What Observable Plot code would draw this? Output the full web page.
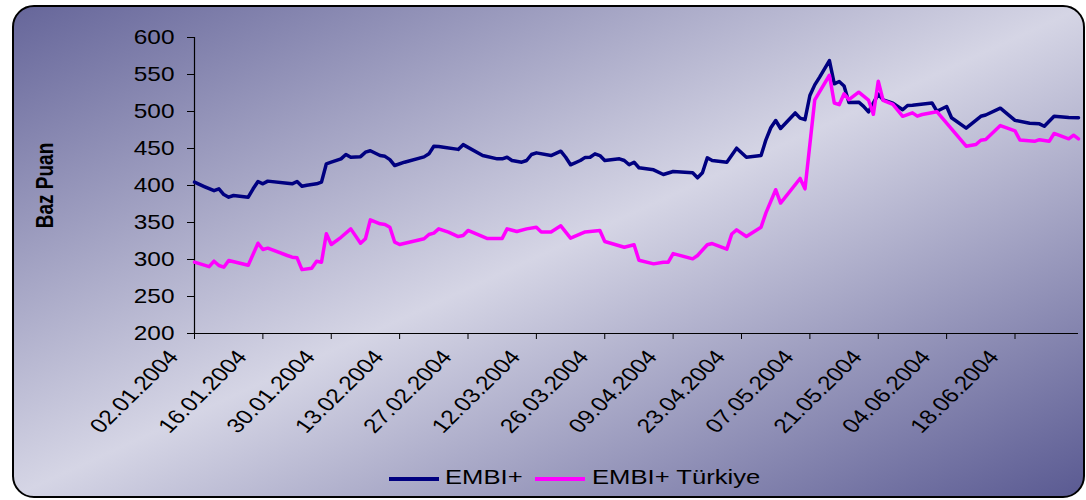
<!DOCTYPE html>
<html><head><meta charset="utf-8">
<script src="https://cdn.jsdelivr.net/npm/d3@7"></script>
<script src="https://cdn.jsdelivr.net/npm/@observablehq/plot@0.6"></script>
<style>
body{margin:0;background:#fff;}
#wrap{position:relative;width:1086px;height:500px;overflow:hidden;font-family:"Liberation Sans",Arial,sans-serif;}
#frame{position:absolute;left:12px;top:5px;width:1069px;height:489px;border:2px solid #000;border-radius:22px;background:linear-gradient(to bottom right,#66669a 0%,#d5d5e5 50%,#5a5a92 100%);}
#chart{position:absolute;left:0;top:0;}
.leg-line{position:absolute;height:4px;width:50px;top:477px;}
.leg-text{position:absolute;top:466px;font-size:21px;line-height:21px;transform:scaleX(1.22);transform-origin:0 0;white-space:nowrap;color:#000;}
</style></head>
<body>
<div id="wrap">
  <div id="frame"></div>
  <div id="chart"></div>
  <div id="legend"></div>
</div>
<script>
// ---- data ----
const seriesNames = ["EMBI+", "EMBI+ Türkiye"];
const seriesColors = ["#000080", "#ff00ff"];

const embiDates = ["2004-01-02","2004-01-04","2004-01-06","2004-01-07","2004-01-08","2004-01-09","2004-01-10","2004-01-13","2004-01-14","2004-01-15","2004-01-16","2004-01-17","2004-01-21","2004-01-22","2004-01-23","2004-01-24","2004-01-25","2004-01-27","2004-01-28","2004-01-29","2004-01-30","2004-02-01","2004-02-02","2004-02-03","2004-02-05","2004-02-06","2004-02-07","2004-02-09","2004-02-10","2004-02-11","2004-02-12","2004-02-14","2004-02-18","2004-02-19","2004-02-20","2004-02-21","2004-02-22","2004-02-25","2004-02-26","2004-03-01","2004-03-04","2004-03-05","2004-03-06","2004-03-07","2004-03-09","2004-03-10","2004-03-11","2004-03-12","2004-03-15","2004-03-17","2004-03-18","2004-03-19","2004-03-21","2004-03-22","2004-03-23","2004-03-24","2004-03-25","2004-03-26","2004-03-29","2004-03-30","2004-03-31","2004-04-01","2004-04-02","2004-04-05","2004-04-07","2004-04-09","2004-04-13","2004-04-14","2004-04-15","2004-04-16","2004-04-17","2004-04-20","2004-04-22","2004-04-24","2004-04-27","2004-04-28","2004-04-29","2004-04-30","2004-05-01","2004-05-04","2004-05-05","2004-05-06","2004-05-07","2004-05-08","2004-05-09","2004-05-11","2004-05-12","2004-05-13","2004-05-14","2004-05-15","2004-05-17","2004-05-18","2004-05-19","2004-05-21","2004-05-22","2004-05-24","2004-05-26","2004-05-27","2004-05-28","2004-06-01","2004-06-02","2004-06-04","2004-06-05","2004-06-08","2004-06-11","2004-06-12","2004-06-15","2004-06-18","2004-06-21","2004-06-23","2004-06-24","2004-06-26","2004-06-29","2004-07-01"];
const embiValues = [404.5,398.6,393,395.5,387.8,384.2,386.5,384.2,395.5,405.4,402.3,405.9,403,402.3,405.4,399,400.4,402.3,404.5,429.3,431.5,436,442,438.2,439,445,447,440.5,439.4,435,427,431.5,438.7,442.8,453,452.7,451.8,448.8,455.2,440.5,436,436,438.2,433.8,431.5,433.8,441.9,444.1,440.5,446.4,438.2,428,433.8,438,438.2,442.8,440.5,433.8,436,433.8,428,431.5,424,421.2,414.9,418.9,417.2,410.4,417.2,437.4,433.8,431.5,450.4,438.2,440.5,461.7,478,487.8,477,498,491,489,521.6,536,546.4,568.9,537.4,540.5,534.5,512,512.6,507,499.5,523.5,515.8,511.2,502.3,508.1,508.5,511.6,500.4,506.8,491.5,477.5,493.5,495.3,504.5,488,484.2,483.3,480.1,493.7,492,491.5];

const trDates = ["2004-01-02","2004-01-05","2004-01-06","2004-01-07","2004-01-08","2004-01-09","2004-01-13","2004-01-15","2004-01-16","2004-01-17","2004-01-21","2004-01-22","2004-01-23","2004-01-24","2004-01-26","2004-01-27","2004-01-28","2004-01-29","2004-01-30","2004-02-01","2004-02-03","2004-02-05","2004-02-06","2004-02-07","2004-02-09","2004-02-10","2004-02-11","2004-02-12","2004-02-13","2004-02-18","2004-02-19","2004-02-20","2004-02-21","2004-02-23","2004-02-25","2004-02-26","2004-02-27","2004-03-02","2004-03-05","2004-03-06","2004-03-08","2004-03-10","2004-03-12","2004-03-13","2004-03-15","2004-03-17","2004-03-19","2004-03-22","2004-03-24","2004-03-25","2004-03-26","2004-03-30","2004-04-01","2004-04-02","2004-04-05","2004-04-07","2004-04-08","2004-04-09","2004-04-13","2004-04-14","2004-04-16","2004-04-17","2004-04-20","2004-04-21","2004-04-22","2004-04-24","2004-04-27","2004-04-28","2004-04-30","2004-05-01","2004-05-05","2004-05-06","2004-05-08","2004-05-11","2004-05-12","2004-05-13","2004-05-14","2004-05-15","2004-05-17","2004-05-19","2004-05-20","2004-05-21","2004-05-22","2004-05-24","2004-05-26","2004-05-28","2004-05-29","2004-05-30","2004-06-02","2004-06-05","2004-06-08","2004-06-10","2004-06-11","2004-06-12","2004-06-15","2004-06-18","2004-06-19","2004-06-22","2004-06-23","2004-06-25","2004-06-26","2004-06-29","2004-06-30","2004-07-01"];
const trValues = [296.4,290.3,297.7,291.9,289.6,298.6,292.3,322,313.5,315.3,305.4,303.1,302.3,286.3,288.3,297.7,296.4,334.7,320.3,330,341.4,322,328,353.6,348.2,347.3,343.6,323.4,320.3,328,333.8,335.6,341.4,336.9,331,332.4,339.2,328.3,328.5,341.4,337.8,341.4,343.6,337.3,337.3,345.5,328.8,337.3,338.5,339.2,324.3,316.6,320,299,294.1,296.4,296.4,308,300.9,305.4,319.9,321.6,314,334.5,340,331.1,343.6,363,394.3,376.3,409.5,395.5,515.8,549,511.5,509.2,524,516,526.1,515.5,496.2,541,514.9,509.5,493.5,498.2,493.7,495.9,499.7,476.6,453.1,455.4,461.2,462.2,481,473.8,461.5,459.7,461.9,459.7,470.3,463.1,468,463];

const tickDates = ["2004-01-02","2004-01-16","2004-01-30","2004-02-13","2004-02-27","2004-03-12","2004-03-26","2004-04-09","2004-04-23","2004-05-07","2004-05-21","2004-06-04","2004-06-18"];
const yTicks = [200,250,300,350,400,450,500,550,600];
const xDomain = ["2004-01-02","2004-07-01"];
const yTitle = "Baz Puan";

// ---- build ----
const parse = s => new Date(s + "T00:00:00Z");
const embi = embiDates.map((d,i) => ({date: parse(d), value: embiValues[i]}));
const tr = trDates.map((d,i) => ({date: parse(d), value: trValues[i]}));
const ticks = tickDates.map(parse);
const fmt = d3.utcFormat("%d.%m.%Y");

const chart = Plot.plot({
  width: 1086, height: 450,
  marginLeft: 194, marginRight: 8, marginTop: 37, marginBottom: 117,
  style: {background: "transparent", fontFamily: "'Liberation Sans', Arial, sans-serif", fontSize: "20px", color: "#000", overflow: "visible"},
  x: {type: "utc", domain: xDomain.map(parse)},
  y: {domain: [200, 600]},
  marks: [
    Plot.axisY({ticks: yTicks, tickSize: 7, tickPadding: 13, fontSize: 20, label: null, stroke: "#000", fill: "#000"}),
    Plot.axisX({ticks: ticks, tickSize: 6, tickFormat: () => "", label: null, stroke: "#000"}),
    Plot.ruleY([200], {stroke: "#000", strokeWidth: 1.2}),
    Plot.ruleX([parse(xDomain[0])], {stroke: "#000", strokeWidth: 1.2}),
    Plot.text(ticks, {x: d => d, frameAnchor: "bottom", text: d => fmt(d), rotate: -50, textAnchor: "end", dx: -15, dy: 24, fontSize: 20, fill: "#000"}),
    Plot.text([yTitle], {frameAnchor: "left", textAnchor: "middle", dx: -149, rotate: -90, fontWeight: "bold", fontSize: 19, fill: "#000"}),
    Plot.line(embi, {x: "date", y: "value", stroke: seriesColors[0], strokeWidth: 3.5, strokeLinejoin: "round"}),
    Plot.line(tr, {x: "date", y: "value", stroke: seriesColors[1], strokeWidth: 3.5, strokeLinejoin: "round"})
  ]
});

// horizontal stretch of text, as in the reference
d3.select(chart).selectAll("text").each(function() {
  const t = this.getAttribute("transform") || "";
  if (!this.textContent) return;
  if (t.includes("rotate")) this.setAttribute("transform", t.replace("rotate", "scale(1.22,1) rotate"));
  else this.setAttribute("transform", t + " scale(1.22,1)");
});
document.getElementById("chart").appendChild(chart);

// legend
const leg = document.getElementById("legend");
const lineX = [389, 535], textX = [445, 592];
seriesNames.forEach((name, i) => {
  const l = document.createElement("div");
  l.className = "leg-line"; l.style.left = lineX[i] + "px"; l.style.background = seriesColors[i];
  leg.appendChild(l);
  const t = document.createElement("div");
  t.className = "leg-text"; t.style.left = textX[i] + "px"; t.textContent = name;
  leg.appendChild(t);
});
</script>
</body></html>
